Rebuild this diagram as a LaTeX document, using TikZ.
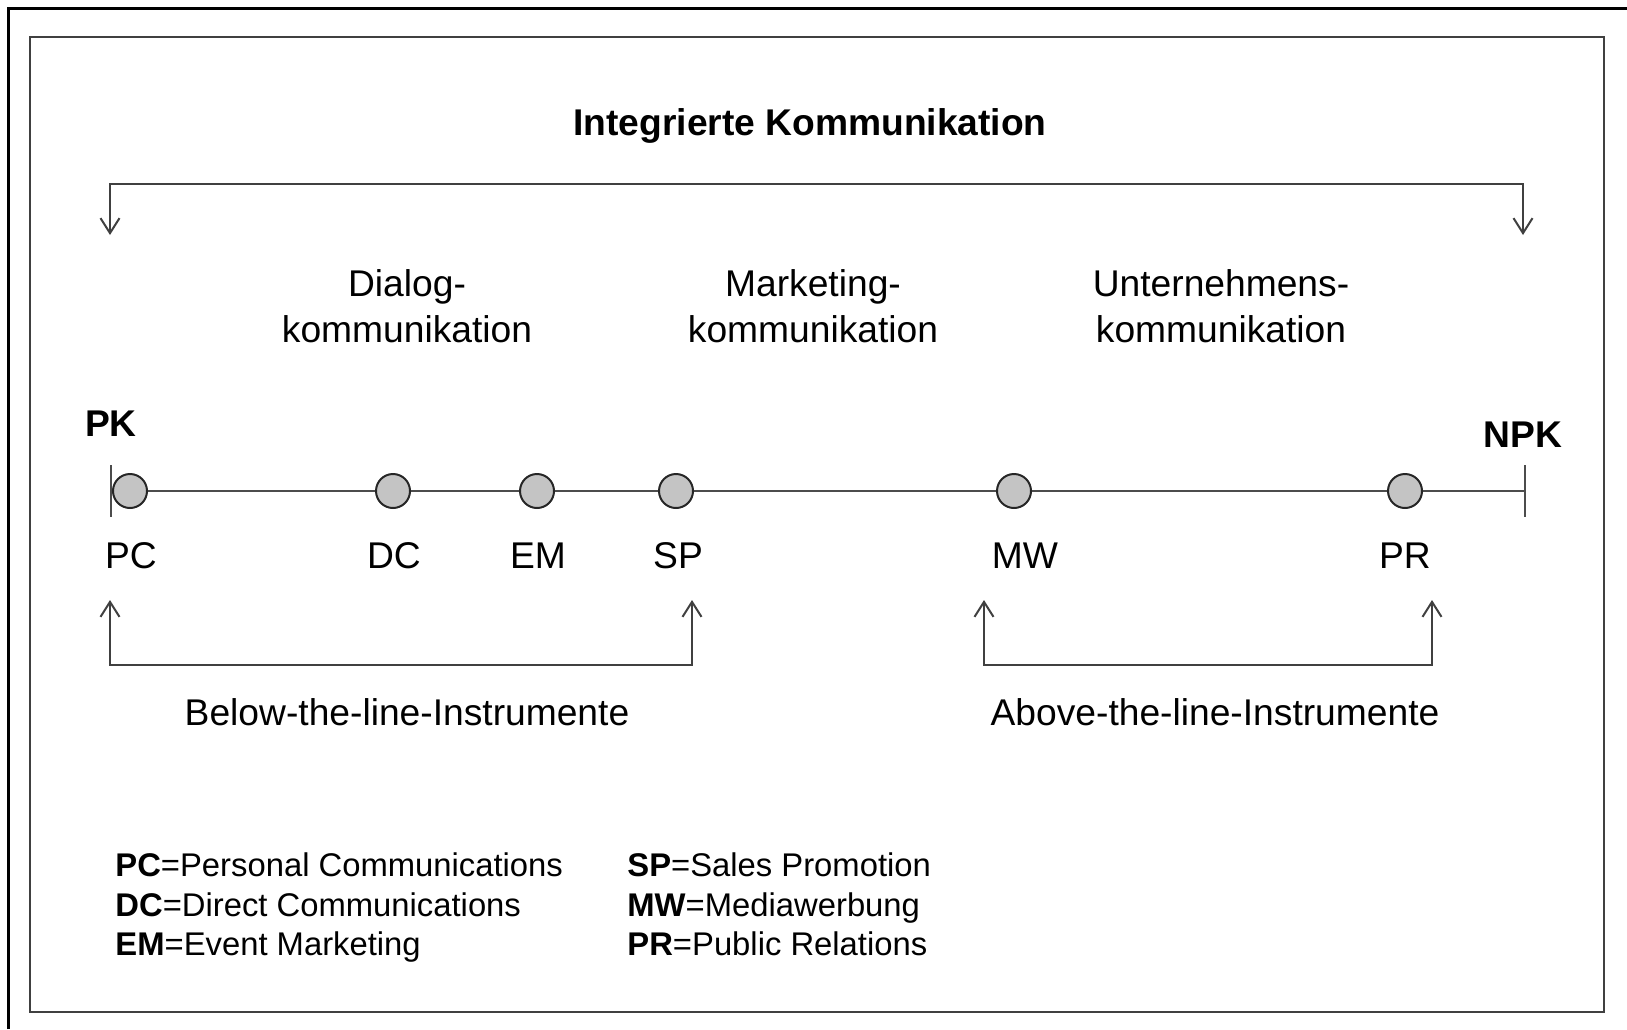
\documentclass[tikz,border=0pt]{standalone}
\usepackage{fontspec}
\setmainfont{Liberation Sans}
\usetikzlibrary{arrows.meta}
\begin{document}
\begin{tikzpicture}[x=0.5pt,y=-0.5pt,
  bigtxt/.style={font=\fontsize{18.6}{23}\selectfont, text=black, inner sep=0pt},
  boldtxt/.style={font=\fontsize{18.6}{23}\selectfont\bfseries, text=black, inner sep=0pt},
  legtxt/.style={font=\fontsize{16.4}{20}\selectfont, text=black, inner sep=0pt, anchor=base west},
  dot/.style={circle, draw=black!85, line width=1pt, fill=black!23, minimum size=17pt, inner sep=0pt},
  brk/.style={line width=1pt, draw=black!75, {Straight Barb[length=7.5pt,width=9.5pt]}-{Straight Barb[length=7.5pt,width=9.5pt]}},
  axis/.style={line width=0.8pt, draw=black!70}]
\useasboundingbox (0,0) rectangle (1627,1029);
% frames
\draw[line width=1.5pt, black] (8,1029) -- (8,8) -- (1627,8);
\draw[line width=1.4pt, black!75] (30,37) rectangle (1604,1012);
% title
\node[boldtxt, anchor=base] (title) at (810,135) {Integrierte Kommunikation};
% top bracket
\coordinate (tl) at (110,235);
\coordinate (tr) at (1523,235);
\draw[brk] (tl) -- (110,184) -- (1523,184) -- (tr);
% headers
\node[bigtxt, align=center] (dialog) at (407,306) {Dialog-\\kommunikation};
\node[bigtxt, align=center] (marketing) at (813,306) {Marketing-\\kommunikation};
\node[bigtxt, align=center] (unternehmen) at (1221,306) {Unternehmens-\\kommunikation};
% PK / NPK
\node[boldtxt, anchor=base] (pk) at (111,436) {PK};
\node[boldtxt, anchor=base] (npk) at (1523,447) {NPK};
% axis
\coordinate (L) at (111,491);
\coordinate (R) at (1525,491);
\draw[axis] (L) -- (R);
\draw[axis] (111,465) -- (111,517);
\draw[axis] (1525,465) -- (1525,517);
\node[dot] (pc) at (130,491) {};
\node[dot] (dc) at (393,491) {};
\node[dot] (em) at (537,491) {};
\node[dot] (sp) at (676,491) {};
\node[dot] (mw) at (1014,491) {};
\node[dot] (pr) at (1405,491) {};
% labels
\node[bigtxt, anchor=base] (pcl) at (131,568) {PC};
\node[bigtxt, anchor=base] (dcl) at (394,568) {DC};
\node[bigtxt, anchor=base] (eml) at (538,568) {EM};
\node[bigtxt, anchor=base] (spl) at (678,568) {SP};
\node[bigtxt, anchor=base] (mwl) at (1025,568) {MW};
\node[bigtxt, anchor=base] (prl) at (1405,568) {PR};
% bottom brackets
\coordinate (b1) at (110,600);
\coordinate (b2) at (692,600);
\coordinate (a1) at (984,600);
\coordinate (a2) at (1432,600);
\draw[brk] (b1) -- (110,665) -- (692,665) -- (b2);
\draw[brk] (a1) -- (984,665) -- (1432,665) -- (a2);
\node[bigtxt, anchor=base] (below) at (407,725) {Below-the-line-Instrumente};
\node[bigtxt, anchor=base] (above) at (1215,725) {Above-the-line-Instrumente};
% legend
\node[legtxt] (lg1) at (115,876) {\textbf{PC}=Personal Communications};
\node[legtxt] (lg2) at (115,916) {\textbf{DC}=Direct Communications};
\node[legtxt] (lg3) at (115,955) {\textbf{EM}=Event Marketing};
\node[legtxt] (lg4) at (627,876) {\textbf{SP}=Sales Promotion};
\node[legtxt] (lg5) at (627,916) {\textbf{MW}=Mediawerbung};
\node[legtxt] (lg6) at (627,955) {\textbf{PR}=Public Relations};
\end{tikzpicture}
\end{document}
